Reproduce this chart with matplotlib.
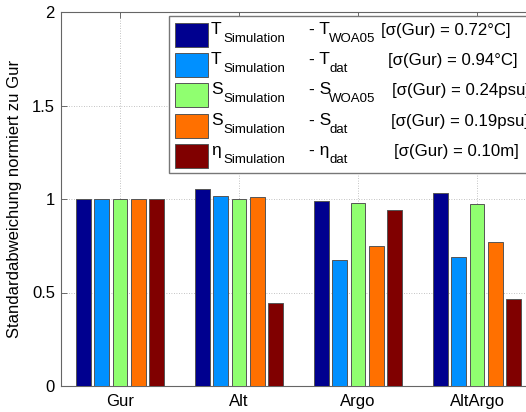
import matplotlib
matplotlib.use("Agg")
import matplotlib.pyplot as plt
from matplotlib.patches import Rectangle
import numpy as np

plt.rcParams['font.family'] = ['Liberation Sans', 'DejaVu Sans']

categories = ["Gur", "Alt", "Argo", "AltArgo"]
# normalised standard deviation per experiment, one list per comparison
t_woa05 = [1.00, 1.055, 0.99, 1.03]
t_dat = [1.00, 1.015, 0.675, 0.69]
s_woa05 = [1.00, 0.998, 0.98, 0.975]
s_dat = [1.00, 1.012, 0.75, 0.77]
eta_dat = [1.00, 0.445, 0.94, 0.465]
series = [t_woa05, t_dat, s_woa05, s_dat, eta_dat]
colors = ["#00008F", "#0090FF", "#90FF70", "#FF7000", "#800000"]

leg_main = ["T", "T", "S", "S", "\u03b7"]
leg_ref = ["T", "T", "S", "S", "\u03b7"]
leg_ref_sub = ["WOA05", "dat", "WOA05", "dat", "dat"]
leg_sigma = ["[\u03c3(Gur) = 0.72\u00b0C]", "[\u03c3(Gur) = 0.94\u00b0C]",
             "[\u03c3(Gur) = 0.24psu]", "[\u03c3(Gur) = 0.19psu]",
             "[\u03c3(Gur) = 0.10m]"]
sigma_x = [381, 388, 392, 391, 394]

W, H = 526, 412
fig = plt.figure(figsize=(W / 100, H / 100), dpi=100)
ax = fig.add_axes([60.5 / W, (H - 386) / H, 476 / W, 374 / H])

x = np.arange(1, len(categories) + 1)
step = 0.153
width = 0.126
for i, (vals, c) in enumerate(zip(series, colors)):
    ax.bar(x + (i - 2) * step, vals, width=width, color=c,
           edgecolor="#555555", linewidth=0.7, zorder=3)

ax.set_xlim(0.5, 4.5)
ax.set_ylim(0, 2)
ax.set_xticks(x)
ax.set_xticklabels(categories)
ax.set_yticks([0, 0.5, 1, 1.5, 2])
ax.set_yticklabels(["0", "0.5", "1", "1.5", "2"])
ax.tick_params(direction="in", length=4, width=0.6, color="#555555",
               labelsize=12, top=True, right=True, pad=6)
ax.tick_params(axis="y", pad=4)
for sp in ax.spines.values():
    sp.set_color("#666666")
    sp.set_linewidth(0.8)
ax.grid(True, linestyle=(0, (1, 2)), color="#b0b0b0", linewidth=0.6, zorder=0)
ax.set_ylabel("Standardabweichung normiert zu Gur", fontsize=12, labelpad=7)

# legend box drawn in pixel coordinates
def px(xp, yp):
    return xp / W, 1 - yp / H

box = Rectangle(px(169, 173), 400 / W, 157 / H, transform=fig.transFigure,
                facecolor="white", edgecolor="#777777", linewidth=1.0,
                zorder=10)
fig.add_artist(box)
row0 = 34.5
dy = 30.4
for i in range(5):
    yc = row0 + i * dy
    fig.add_artist(Rectangle(px(175, yc + 12), 33 / W, 24 / H,
                             transform=fig.transFigure, facecolor=colors[i],
                             edgecolor="#555555", linewidth=0.7, zorder=11))
    fig.text(*px(211, yc - 5.5), leg_main[i], fontsize=12.5, ha="left",
             va="center", zorder=12)
    fig.text(*px(223, yc + 4), "Simulation", fontsize=9.5, ha="left",
             va="center", zorder=12)
    fig.text(*px(309, yc - 5.5), "- " + leg_ref[i], fontsize=12.5, ha="left",
             va="center", zorder=12)
    fig.text(*px(329, yc + 4), leg_ref_sub[i], fontsize=9.5, ha="left",
             va="center", zorder=12)
    fig.text(*px(sigma_x[i], yc - 4.5), leg_sigma[i], fontsize=12.1,
             ha="left", va="center", zorder=12)

fig.savefig("out.png", dpi=100)
